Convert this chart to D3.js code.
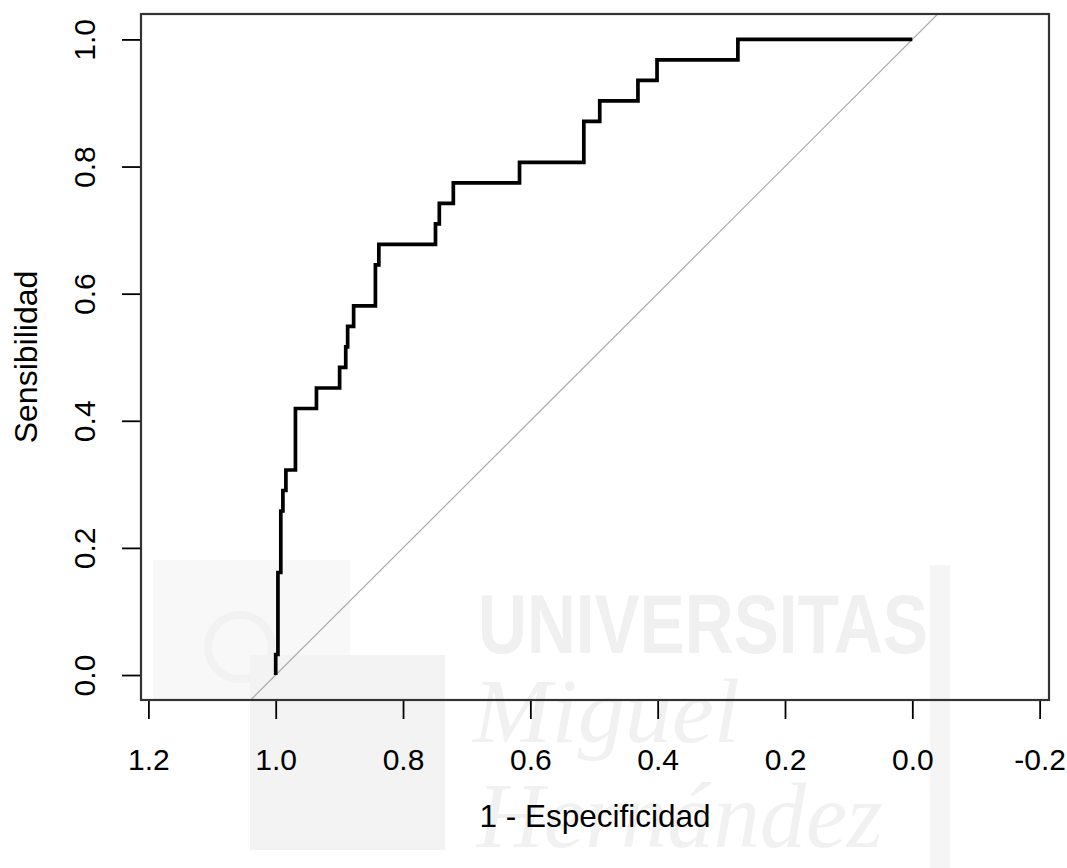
<!DOCTYPE html>
<html>
<meta charset="utf-8">
<script src="https://d3js.org/d3.v7.min.js"></script>
<style>
    body { margin: 0; background: #fff; }
    svg text { font-family: "Liberation Sans", Arial, sans-serif; }
</style>
<body>
    <svg width="1067" height="868"></svg>
    <script>
        // ROC curve points (specificity reversed on x, sensitivity on y)
        const especificidad = [1.000, 1.000, 0.9965, 0.9965, 0.992, 0.992, 0.9887, 0.9887, 0.984, 0.984,
            0.969, 0.969, 0.936, 0.936, 0.8996, 0.8996, 0.890, 0.890, 0.887, 0.887,
            0.8776, 0.8776, 0.8434, 0.8434, 0.838, 0.838, 0.749, 0.749, 0.743, 0.743,
            0.721, 0.721, 0.617, 0.617, 0.516, 0.516, 0.491, 0.491, 0.431, 0.431,
            0.401, 0.401, 0.274, 0.274, 0.000];
        const sensibilidad = [0, 1, 1, 5, 5, 8, 8, 9, 9, 10,
            10, 13, 13, 14, 14, 15, 15, 16, 16, 17,
            17, 18, 18, 20, 20, 21, 21, 22, 22, 23,
            23, 24, 24, 25, 25, 27, 27, 28, 28, 29,
            29, 30, 30, 31, 31].map(n => n / 31);

        const xTicks = [1.2, 1.0, 0.8, 0.6, 0.4, 0.2, 0.0, -0.2];
        const yTicks = [0.0, 0.2, 0.4, 0.6, 0.8, 1.0];
        const xLabel = "1 - Especificidad";
        const yLabel = "Sensibilidad";

        let svg = d3.select("svg"),
            margin = { top: 14, right: 18, bottom: 168, left: 141 },
            width = +svg.attr("width") - margin.left - margin.right,
            height = +svg.attr("height") - margin.top - margin.bottom;

        // asp = 1 like R: y keeps its 4% padding, x is widened to fill the box
        let x = d3.scaleLinear().domain([1.2116, -0.2147]).range([margin.left, margin.left + width]),
            y = d3.scaleLinear().domain([-0.0393, 1.040]).range([margin.top + height, margin.top]);

        const fmt = d => d.toFixed(1);

        // faint watermark in the background
        let wm = svg.append("g").attr("class", "watermark");
        wm.append("rect").attr("x", 153).attr("y", 560).attr("width", 197).attr("height", 140).style("fill", "#f8f8f8");
        wm.append("circle").attr("cx", 240).attr("cy", 647).attr("r", 32).style("fill", "none").style("stroke", "#f2f2f2").style("stroke-width", 8);
        wm.append("rect").attr("x", 250).attr("y", 655).attr("width", 195).attr("height", 195).style("fill", "#f3f3f3");
        wm.append("rect").attr("x", 930).attr("y", 565).attr("width", 20).attr("height", 303).style("fill", "#f5f5f5");
        wm.append("text").attr("x", 478).attr("y", 653).text("UNIVERSITAS")
            .attr("textLength", 450).attr("lengthAdjust", "spacingAndGlyphs")
            .style("font-size", "84px").style("font-weight", "bold").style("fill", "#f0f0f0");
        wm.append("text").attr("x", 473).attr("y", 742).text("Miguel")
            .attr("textLength", 267).attr("lengthAdjust", "spacingAndGlyphs")
            .style("font-family", "'Liberation Serif', serif").style("font-style", "italic")
            .style("font-size", "92px").style("fill", "#f1f1f1");
        wm.append("text").attr("x", 477).attr("y", 847).text("Hernández")
            .attr("textLength", 406).attr("lengthAdjust", "spacingAndGlyphs")
            .style("font-family", "'Liberation Serif', serif").style("font-style", "italic")
            .style("font-size", "94px").style("fill", "#f1f1f1");

        svg.append("clipPath").attr("id", "plotclip")
            .append("rect").attr("x", margin.left).attr("y", margin.top).attr("width", width).attr("height", height);

        // identity line, clipped to the plot region
        const diag = [1 - y.domain()[0], 1 - y.domain()[1]];
        svg.append("line")
            .attr("clip-path", "url(#plotclip)")
            .attr("x1", x(diag[0])).attr("y1", y(1 - diag[0]))
            .attr("x2", x(diag[1])).attr("y2", y(1 - diag[1]))
            .style("stroke", "#aaaaaa").style("stroke-width", 1.2);

        // ROC curve
        const rocLine = d3.line().x(d => x(d[0])).y(d => y(d[1]));
        svg.append("path")
            .datum(d3.zip(especificidad, sensibilidad))
            .attr("d", rocLine)
            .style("fill", "none").style("stroke", "#000").style("stroke-width", 3.7)
            .style("stroke-linejoin", "miter");

        // axes
        let xAxis = d3.axisBottom(x).tickValues(xTicks).tickFormat(fmt).tickSize(19).tickSizeOuter(0);
        let yAxis = d3.axisLeft(y).tickValues(yTicks).tickFormat(fmt).tickSize(19).tickSizeOuter(0);

        let gx = svg.append("g").attr("transform", `translate(0,${margin.top + height})`).call(xAxis);
        gx.select(".domain").remove();
        gx.selectAll(".tick line").style("stroke", "#000").style("stroke-width", 1.8);
        gx.selectAll(".tick text").attr("y", 70).attr("dy", null)
            .style("font-size", "30px").style("fill", "#000");

        let gy = svg.append("g").attr("transform", `translate(${margin.left},0)`).call(yAxis);
        gy.select(".domain").remove();
        gy.selectAll(".tick line").style("stroke", "#000").style("stroke-width", 1.8);
        gy.selectAll(".tick text").attr("x", 0).attr("y", 0).attr("dy", null)
            .attr("text-anchor", "middle").attr("transform", "translate(-46,0) rotate(-90)")
            .style("font-size", "30px").style("fill", "#000");

        // box
        svg.append("rect")
            .attr("x", margin.left).attr("y", margin.top).attr("width", width).attr("height", height)
            .style("fill", "none").style("stroke", "#333").style("stroke-width", 2.2);

        // axis titles
        svg.append("text")
            .attr("x", margin.left + width / 2).attr("y", 827)
            .attr("text-anchor", "middle").style("font-size", "31.5px").style("fill", "#000")
            .text(xLabel);
        svg.append("text")
            .attr("transform", `translate(37,${margin.top + height / 2}) rotate(-90)`)
            .attr("text-anchor", "middle").style("font-size", "32px").style("fill", "#000")
            .text(yLabel);
    </script>
</body>
</html>
